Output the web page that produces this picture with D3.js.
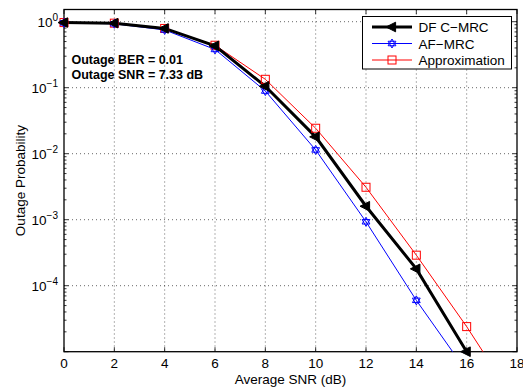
<!DOCTYPE html>
<html>
<head>
<meta charset="utf-8">
<script src="https://cdn.jsdelivr.net/npm/d3@7"></script>
<style>
  html, body { margin: 0; padding: 0; background: #fff; }
  svg { display: block; font-family: "Liberation Sans", Arial, Helvetica, sans-serif; }
</style>
</head>
<body>
<svg id="chart" width="523" height="389"></svg>
<script>
// ---- data ----
const snr = [0, 2, 4, 6, 8, 10, 12, 14, 16];
const dfCMRC = [0.97, 0.95, 0.79, 0.43, 0.105, 0.018, 0.0016, 0.00018, 0.00001];
const afMRC = [0.96, 0.93, 0.75, 0.38, 0.089, 0.0114, 0.00093, 0.00006, 0.000005];
const approx = [0.97, 0.95, 0.79, 0.44, 0.134, 0.0243, 0.0031, 0.00029, 0.000024];
const approxTailX = [18];
const approxTail = [0.0000016];
const xTicks = [0, 2, 4, 6, 8, 10, 12, 14, 16, 18];
const yTickExp = [0, -1, -2, -3, -4];
const legendLabels = ["DF C\u2212MRC", "AF\u2212MRC", "Approximation"];
const annotation = ["Outage BER = 0.01", "Outage SNR = 7.33 dB"];

// ---- layout ----
const svg = d3.select("#chart");
const L = 64, R = 517, T = 9.5, B = 351.7;
const x = d3.scaleLinear().domain([0, 18]).range([L, R]);
const y = d3.scaleLog().domain([1e-5, 1.53]).range([B, T]);

svg.append("defs").append("clipPath").attr("id", "clip")
  .append("rect").attr("x", L).attr("y", T).attr("width", R - L).attr("height", B - T);

// grid
const grid = svg.append("g").attr("stroke", "#000").attr("stroke-width", 0.6)
  .attr("stroke-dasharray", "1,3");
xTicks.filter(v => v > 0 && v < 18).forEach(v => {
  grid.append("line").attr("x1", x(v)).attr("x2", x(v)).attr("y1", T).attr("y2", B);
});
yTickExp.forEach(e => {
  grid.append("line").attr("x1", L).attr("x2", R).attr("y1", y(Math.pow(10, e))).attr("y2", y(Math.pow(10, e)));
});

// ticks (inward, both sides)
const tk = svg.append("g").attr("stroke", "#000").attr("stroke-width", 0.8);
xTicks.forEach(v => {
  tk.append("line").attr("x1", x(v)).attr("x2", x(v)).attr("y1", B).attr("y2", B - 4.5);
  tk.append("line").attr("x1", x(v)).attr("x2", x(v)).attr("y1", T).attr("y2", T + 4.5);
});
for (let e = -5; e <= 0; e++) {
  for (let m = 1; m <= 9; m++) {
    const v = m * Math.pow(10, e);
    if (v < 1e-5 || v > 1.53) continue;
    const len = m === 1 ? 4.5 : 2.5;
    tk.append("line").attr("x1", L).attr("x2", L + len).attr("y1", y(v)).attr("y2", y(v));
    tk.append("line").attr("x1", R).attr("x2", R - len).attr("y1", y(v)).attr("y2", y(v));
  }
}

// axes box
svg.append("rect").attr("x", L).attr("y", T).attr("width", R - L).attr("height", B - T)
  .attr("fill", "none").attr("stroke", "#000").attr("stroke-width", 1.3);

// tick labels
const xl = svg.append("g").attr("font-size", 13.5).attr("text-anchor", "middle");
xTicks.forEach(v => {
  xl.append("text").attr("x", x(v)).attr("y", 368.3).text(v);
});
const yl = svg.append("g").attr("font-size", 13.5);
yTickExp.forEach(e => {
  const t = yl.append("text").attr("x", 58).attr("y", y(Math.pow(10, e)) + 5).attr("text-anchor", "end");
  t.append("tspan").text("10");
  t.append("tspan").attr("font-size", 10).attr("dy", -6).text(e === 0 ? "0" : "\u2212" + Math.abs(e));
});

// axis titles
svg.append("text").attr("x", (L + R) / 2).attr("y", 383.5).attr("text-anchor", "middle")
  .attr("font-size", 13.5).text("Average SNR (dB)");
svg.append("text").attr("transform", `translate(25,${(T + B) / 2}) rotate(-90)`)
  .attr("text-anchor", "middle").attr("font-size", 13.5).text("Outage Probability");

// lines
const line = d3.line().x(d => x(d[0])).y(d => y(d[1]));
const plot = svg.append("g").attr("clip-path", "url(#clip)");
const blueData = snr.map((s, i) => [s, afMRC[i]]);
const redData = snr.map((s, i) => [s, approx[i]]).concat(approxTailX.map((s, i) => [s, approxTail[i]]));
const blackData = snr.map((s, i) => [s, dfCMRC[i]]);
plot.append("path").attr("d", line(blueData)).attr("fill", "none").attr("stroke", "#0000ff").attr("stroke-width", 1);
plot.append("path").attr("d", line(redData)).attr("fill", "none").attr("stroke", "#ff0000").attr("stroke-width", 1);
plot.append("path").attr("d", line(blackData)).attr("fill", "none").attr("stroke", "#000").attr("stroke-width", 3);

// markers
function hexagram(g, cx, cy, r) {
  const tri = (rot) => d3.range(3).map(k => {
    const a = rot + k * 2 * Math.PI / 3;
    return [cx + r * Math.sin(a), cy - r * Math.cos(a)];
  });
  g.append("polygon").attr("points", tri(0).join(" ")).attr("fill", "none").attr("stroke", "#0000ff").attr("stroke-width", 1);
  g.append("polygon").attr("points", tri(Math.PI).join(" ")).attr("fill", "none").attr("stroke", "#0000ff").attr("stroke-width", 1);
}
function square(g, cx, cy, s) {
  g.append("rect").attr("x", cx - s / 2).attr("y", cy - s / 2).attr("width", s).attr("height", s)
    .attr("fill", "none").attr("stroke", "#ff0000").attr("stroke-width", 1);
}
function leftTri(g, cx, cy, s) {
  g.append("polygon").attr("points", [[cx - s, cy], [cx + s * 0.6, cy - s * 0.8], [cx + s * 0.6, cy + s * 0.8]].join(" "))
    .attr("fill", "#000").attr("stroke", "#000").attr("stroke-width", 1);
}
const mk = svg.append("g");
redData.forEach(d => { if (d[1] >= 1e-5) square(mk, x(d[0]), y(d[1]), 8); });
blueData.forEach(d => { if (d[1] >= 1e-5) hexagram(mk, x(d[0]), y(d[1]), 4.5); });
blackData.forEach(d => leftTri(mk, x(d[0]), y(d[1]), 6));

// annotation
const an = svg.append("g").attr("font-size", 12.5).attr("font-weight", "bold");
annotation.forEach((s, i) => {
  an.append("text").attr("x", 71.5).attr("y", 64.2 + i * 14.6).text(s);
});

// legend
const lg = svg.append("g");
lg.append("rect").attr("x", 362.5).attr("y", 16.5).attr("width", 149).attr("height", 52.5)
  .attr("fill", "#fff").attr("stroke", "#000").attr("stroke-width", 1);
const ly = [27, 43.5, 60];
const lx1 = 372, lx2 = 412, lmid = (lx1 + lx2) / 2;
lg.append("line").attr("x1", lx1).attr("x2", lx2).attr("y1", ly[0]).attr("y2", ly[0]).attr("stroke", "#000").attr("stroke-width", 3);
leftTri(lg, lmid, ly[0], 6);
lg.append("line").attr("x1", lx1).attr("x2", lx2).attr("y1", ly[1]).attr("y2", ly[1]).attr("stroke", "#0000ff").attr("stroke-width", 1);
hexagram(lg, lmid, ly[1], 4.5);
lg.append("line").attr("x1", lx1).attr("x2", lx2).attr("y1", ly[2]).attr("y2", ly[2]).attr("stroke", "#ff0000").attr("stroke-width", 1);
square(lg, lmid, ly[2], 8);
legendLabels.forEach((s, i) => {
  lg.append("text").attr("x", 418.5).attr("y", ly[i] + 5).attr("font-size", 13.5).text(s);
});
</script>
</body>
</html>
